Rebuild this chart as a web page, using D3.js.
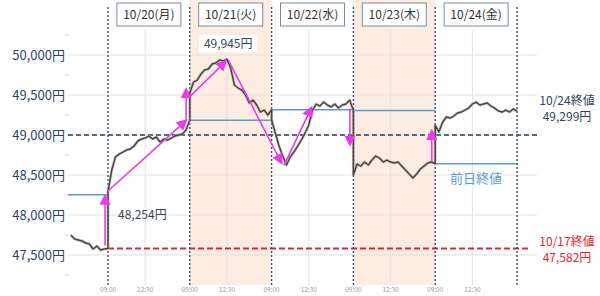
<!DOCTYPE html>
<html><head><meta charset="utf-8">
<script src="https://cdn.jsdelivr.net/npm/d3@7"></script>
<style>
body{margin:0;background:#fff;}
text{font-family:"Noto Sans CJK JP","Noto Sans",sans-serif;}
</style></head>
<body><svg id="c" width="600" height="296"></svg>
<script>
// ---- data ----
const days = ["10/17","10/20(月)","10/21(火)","10/22(水)","10/23(木)","10/24(金)"];
const shadedDays = [2,4];
const sessionMinutes = 330; // 09:00-11:30 + 12:30-15:30, lunch removed
const stepMin = 15;
// 10/17 afternoon from 13:00 (minute 180)
const d1017 = [47750,47700,47687,47675,47650,47637,47575,47612,47562,47575,47582];
const d1020 = [48287,48562,48725,48762,48787,48812,48825,48862,48925,48950,48962,48987,48950,48975,48912,48950,48937,48962,48987,49000,49012,49062,49187];
const d1021 = [49525,49662,49687,49762,49812,49825,49887,49900,49937,49925,49945,49837,49625,49587,49562,49500,49400,49437,49375,49287,49312,49250,49316];
const d1022 = [49187,49025,48862,48737,48625,48725,48787,48862,48937,49025,49125,49312,49387,49362,49412,49375,49350,49387,49337,49375,49387,49437,49307];
const d1023 = [48500,48637,48612,48662,48625,48687,48737,48712,48662,48687,48662,48650,48662,48612,48562,48512,48462,48512,48575,48612,48650,48662,48641];
const d1024 = [49125,49037,49162,49225,49212,49237,49275,49287,49312,49337,49387,49412,49375,49387,49400,49362,49337,49300,49287,49312,49287,49325,49299];
const prevCloseLines = [
  {d0:0.55, d1:1, v:48254},
  {d0:2, d1:3, v:49185.5},
  {d0:3, d1:4, v:49316},
  {d0:4, d1:5, v:49307.8},
  {d0:5, d1:6, v:48641.6}
];
const yTicks = [47500,48000,48500,49000,49500,50000];
const yMinor = [47250,47750,48250,48750,49250,49750,50250];
const timeTicks = [{m:0,label:"09:00"},{m:150,label:"12:30"}];
const close1024 = 49299, close1017 = 47582, high1021 = 49945, open1020 = 48254, level49000 = 49000;
const arrows = [
  {t0:318,v0:47620,t1:318,v1:48240},
  {t0:330,v0:48300,t1:645,v1:49180},
  {t0:645,v0:49180,t1:645,v1:49570},
  {t0:660,v0:49480,t1:805,v1:49920},
  {t0:815,v0:49940,t1:1030,v1:48650},
  {t0:1040,v0:48620,t1:1150,v1:49340},
  {t0:1306,v0:49330,t1:1306,v1:48880},
  {t0:1636,v0:48670,t1:1636,v1:49050}
];

// ---- build series ----
const series = [];
d1017.forEach((v,i)=>series.push({t:180+i*stepMin, v}));
[d1020,d1021,d1022,d1023,d1024].forEach((arr,k)=>{
  arr.forEach((v,i)=>series.push({t:(k+1)*sessionMinutes + i*stepMin, v}));
});

const svg = d3.select("#c");
const x = d3.scaleLinear().domain([330, 6*330]).range([108, 517]);
const y = d3.scaleLinear().domain([47500, 50000]).range([255, 55]);
const pL = 68, pR = 537, pB = 285;

shadedDays.forEach(d=>{
  svg.append("rect").attr("x",x(d*330)).attr("y",0).attr("width",x((d+1)*330)-x(d*330))
    .attr("height",pB).attr("fill","#fdece1");
});

svg.append("g").selectAll("line").data(yTicks).join("line")
  .attr("x1",pL).attr("x2",pR).attr("y1",d=>y(d)).attr("y2",d=>y(d))
  .attr("stroke","#e3e3e3").attr("stroke-width",1);
svg.append("g").selectAll("line").data(yMinor).join("line")
  .attr("x1",pL-3).attr("x2",pL+1).attr("y1",d=>y(d)).attr("y2",d=>y(d))
  .attr("stroke","#d8d8d8").attr("stroke-width",1);
const tickData = [];
for(let d=0; d<6; d++) timeTicks.forEach(tt=>{ tickData.push({t:d*330+tt.m, label:tt.label, m:tt.m}); });
svg.append("g").selectAll("line").data(tickData.filter(d=>d.m===150 && d.t>330)).join("line")
  .attr("x1",d=>x(d.t)).attr("x2",d=>x(d.t)).attr("y1",30).attr("y2",pB)
  .attr("stroke","#e3e3e3").attr("stroke-width",1);

svg.append("g").selectAll("text").data(yTicks).join("text")
  .attr("x",65).attr("y",d=>y(d)).attr("dy","0.36em").attr("text-anchor","end")
  .attr("font-size",13).attr("fill","#2e4466").text(d=>d3.format(",")(d)+"円");

svg.append("g").selectAll("text").data(tickData.filter(d=>d.t>=330)).join("text")
  .attr("x",d=>x(d.t)).attr("y",292).attr("text-anchor","middle")
  .attr("font-size",6.5).attr("fill","#999").text(d=>d.label);

svg.append("g").selectAll("line").data(prevCloseLines).join("line")
  .attr("x1",d=>d.d0<1? pL : x(d.d0*330)).attr("x2",d=>x(d.d1*330))
  .attr("y1",d=>y(d.v)).attr("y2",d=>y(d.v))
  .attr("stroke","#5b9bd5").attr("stroke-width",1.5);

svg.append("line").attr("x1",pL).attr("x2",pR).attr("y1",y(level49000)).attr("y2",y(level49000))
  .attr("stroke","#2b3a60").attr("stroke-width",1.5).attr("stroke-dasharray","5,3");
svg.append("line").attr("x1",x(330)).attr("x2",531).attr("y1",y(close1017)).attr("y2",y(close1017))
  .attr("stroke","#e02828").attr("stroke-width",2).attr("stroke-dasharray","6,3");

svg.append("g").selectAll("line").data(d3.range(1,7)).join("line")
  .attr("x1",d=>x(d*330)).attr("x2",d=>x(d*330)).attr("y1",7).attr("y2",pB)
  .attr("stroke","#3b4a70").attr("stroke-width",1.4).attr("stroke-dasharray","2,2");

const line = d3.line().x(d=>x(d.t)).y(d=>y(d.v));
svg.append("path").datum(series).attr("d",line).attr("fill","none")
  .attr("stroke","#b5aea5").attr("stroke-width",3).attr("stroke-linejoin","round").attr("opacity",0.6);
svg.append("path").datum(series).attr("d",line).attr("fill","none")
  .attr("stroke","#4a4540").attr("stroke-width",1.5).attr("stroke-linejoin","round");

const defs = svg.append("defs");
defs.append("marker").attr("id","ah").attr("viewBox","0 0 10 10").attr("refX",8).attr("refY",5)
  .attr("markerWidth",7).attr("markerHeight",7).attr("orient","auto-start-reverse")
  .append("path").attr("d","M0,0L10,5L0,10z").attr("fill","#e83ce8");
svg.append("g").selectAll("line").data(arrows).join("line")
  .attr("x1",d=>x(d.t0)).attr("y1",d=>y(d.v0)).attr("x2",d=>x(d.t1)).attr("y2",d=>y(d.v1))
  .attr("stroke","#e83ce8").attr("stroke-width",1.6).attr("marker-end","url(#ah)");

const dayBoxes = svg.append("g").selectAll("g").data(d3.range(1,6)).join("g");
dayBoxes.append("rect").attr("x",d=>x(d*330+165)-32).attr("y",3).attr("width",64).attr("height",23)
  .attr("fill","#fff").attr("stroke","#7d8b99").attr("stroke-width",1);
dayBoxes.append("text").attr("x",d=>x(d*330+165)).attr("y",19).attr("text-anchor","middle")
  .attr("font-size",12).attr("fill","#333").text(d=>days[d]);

const hx = x(815);
svg.append("rect").attr("x",hx-29).attr("y",35).attr("width",58).attr("height",17).attr("fill","#fff");
svg.append("text").attr("x",hx).attr("y",48).attr("text-anchor","middle").attr("font-size",12)
  .attr("fill","#3b4656").text(d3.format(",")(high1021)+"円");
svg.append("text").attr("x",x(330)+10).attr("y",y(open1020)+24).attr("font-size",12)
  .attr("fill","#3b4656").text(d3.format(",")(open1020)+"円");
svg.append("text").attr("x",x(5.5*330)).attr("y",y(48641.6)+19).attr("text-anchor","middle")
  .attr("font-size",13).attr("fill","#5b9bd5").text("前日終値");
svg.append("text").attr("x",567).attr("y",y(close1024)-6).attr("text-anchor","middle").attr("font-size",12)
  .attr("fill","#2e4466").text("10/24終値");
svg.append("text").attr("x",567).attr("y",y(close1024)+10).attr("text-anchor","middle").attr("font-size",12)
  .attr("fill","#2e4466").text(d3.format(",")(close1024)+"円");
svg.append("text").attr("x",567).attr("y",y(close1017)-2).attr("text-anchor","middle").attr("font-size",12)
  .attr("fill","#e02828").text("10/17終値");
svg.append("text").attr("x",567).attr("y",y(close1017)+14).attr("text-anchor","middle").attr("font-size",12)
  .attr("fill","#e02828").text(d3.format(",")(close1017)+"円");
</script></body></html>
